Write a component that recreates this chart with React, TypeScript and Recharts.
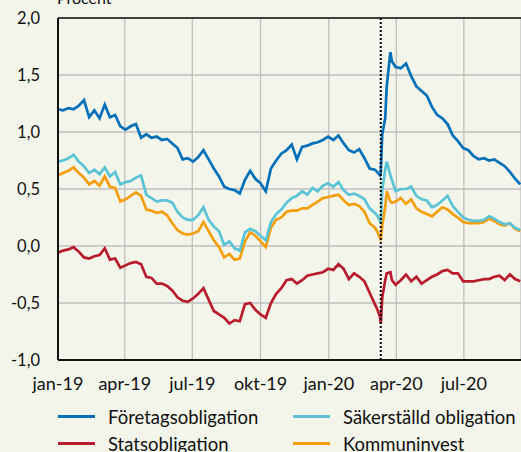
import {
  LineChart,
  Line,
  XAxis,
  YAxis,
  CartesianGrid,
  ReferenceLine,
} from 'recharts';

// Dagliga räntespreadar, avlästa ungefär en gång per vecka (procent)
const dates = [
  '2019-01-01', '2019-01-08', '2019-01-15', '2019-01-22', '2019-01-29', '2019-02-05', '2019-02-12', '2019-02-19',
  '2019-02-26', '2019-03-05', '2019-03-12', '2019-03-19', '2019-03-26', '2019-04-02', '2019-04-09', '2019-04-16',
  '2019-04-23', '2019-04-30', '2019-05-07', '2019-05-14', '2019-05-21', '2019-05-28', '2019-06-04', '2019-06-11',
  '2019-06-18', '2019-06-25', '2019-07-02', '2019-07-09', '2019-07-16', '2019-07-23', '2019-07-30', '2019-08-06',
  '2019-08-13', '2019-08-20', '2019-08-27', '2019-09-03', '2019-09-10', '2019-09-17', '2019-09-24', '2019-10-01',
  '2019-10-08', '2019-10-15', '2019-10-22', '2019-10-29', '2019-11-05', '2019-11-12', '2019-11-19', '2019-11-26',
  '2019-12-03', '2019-12-10', '2019-12-17', '2019-12-24', '2019-12-31', '2020-01-07', '2020-01-14', '2020-01-21',
  '2020-01-28', '2020-02-04', '2020-02-11', '2020-02-18', '2020-02-25', '2020-03-03', '2020-03-06', '2020-03-10',
  '2020-03-11', '2020-03-13', '2020-03-17', '2020-03-19', '2020-03-24', '2020-03-26', '2020-03-31', '2020-04-07',
  '2020-04-14', '2020-04-21', '2020-04-28', '2020-05-05', '2020-05-12', '2020-05-19', '2020-05-26', '2020-06-02',
  '2020-06-09', '2020-06-16', '2020-06-23', '2020-06-30', '2020-07-07', '2020-07-14', '2020-07-21', '2020-07-28',
  '2020-08-04', '2020-08-11', '2020-08-18', '2020-08-25', '2020-09-01', '2020-09-08', '2020-09-15',
];

const foretag = [
  1.20, 1.19, 1.21, 1.20, 1.23, 1.28, 1.13, 1.19, 1.12, 1.24, 1.13, 1.15, 1.05, 1.02, 1.05, 1.07,
  0.95, 0.98, 0.95, 0.96, 0.93, 0.94, 0.90, 0.86, 0.76, 0.77, 0.74, 0.78, 0.84, 0.76, 0.68, 0.61,
  0.52, 0.50, 0.49, 0.46, 0.58, 0.66, 0.59, 0.55, 0.48, 0.68, 0.75, 0.81, 0.84, 0.89, 0.76, 0.87,
  0.88, 0.90, 0.91, 0.93, 0.96, 0.93, 0.97, 0.90, 0.84, 0.82, 0.85, 0.77, 0.68, 0.67, 0.65, 0.62,
  0.64, 0.98, 1.12, 1.40, 1.70, 1.62, 1.57, 1.56, 1.60, 1.49, 1.40, 1.36, 1.32, 1.22, 1.15, 1.12,
  1.07, 0.97, 0.92, 0.86, 0.84, 0.79, 0.76, 0.77, 0.75, 0.76, 0.73, 0.70, 0.65, 0.59, 0.54,
];

const stat = [
  -0.06, -0.04, -0.03, -0.01, -0.05, -0.10, -0.11, -0.09, -0.08, -0.02, -0.12, -0.11, -0.19, -0.17, -0.15, -0.14,
  -0.16, -0.27, -0.28, -0.33, -0.33, -0.35, -0.39, -0.45, -0.48, -0.49, -0.46, -0.42, -0.37, -0.47, -0.57, -0.60,
  -0.63, -0.68, -0.65, -0.66, -0.51, -0.50, -0.56, -0.60, -0.63, -0.50, -0.42, -0.37, -0.30, -0.29, -0.33, -0.30,
  -0.26, -0.25, -0.24, -0.23, -0.20, -0.21, -0.16, -0.20, -0.29, -0.24, -0.27, -0.31, -0.41, -0.51, -0.55, -0.62,
  -0.68, -0.45, -0.30, -0.24, -0.23, -0.30, -0.34, -0.30, -0.25, -0.31, -0.27, -0.33, -0.30, -0.27, -0.25, -0.22,
  -0.21, -0.24, -0.24, -0.31, -0.31, -0.31, -0.30, -0.29, -0.29, -0.27, -0.26, -0.30, -0.25, -0.29, -0.31,
];

const sakerstalld = [
  0.74, 0.75, 0.77, 0.80, 0.74, 0.70, 0.64, 0.67, 0.63, 0.69, 0.61, 0.65, 0.54, 0.56, 0.57, 0.60,
  0.62, 0.45, 0.42, 0.39, 0.40, 0.40, 0.38, 0.30, 0.25, 0.23, 0.23, 0.27, 0.34, 0.23, 0.17, 0.13,
  0.01, 0.04, -0.02, -0.04, 0.12, 0.15, 0.13, 0.09, 0.05, 0.21, 0.28, 0.32, 0.38, 0.42, 0.44, 0.48,
  0.45, 0.51, 0.48, 0.53, 0.55, 0.52, 0.56, 0.49, 0.45, 0.46, 0.44, 0.41, 0.33, 0.29, 0.27, 0.22,
  0.20, 0.49, 0.67, 0.74, 0.62, 0.58, 0.48, 0.50, 0.50, 0.52, 0.44, 0.41, 0.40, 0.34, 0.36, 0.40,
  0.44, 0.35, 0.30, 0.25, 0.23, 0.22, 0.22, 0.23, 0.26, 0.24, 0.21, 0.19, 0.20, 0.16, 0.14,
];

const kommuninvest = [
  0.62, 0.64, 0.66, 0.69, 0.64, 0.60, 0.54, 0.57, 0.53, 0.61, 0.52, 0.51, 0.39, 0.41, 0.44, 0.47,
  0.44, 0.32, 0.31, 0.29, 0.30, 0.27, 0.20, 0.14, 0.11, 0.10, 0.11, 0.13, 0.21, 0.13, 0.05, -0.01,
  -0.10, -0.07, -0.12, -0.11, 0.04, 0.12, 0.09, 0.04, -0.01, 0.16, 0.23, 0.25, 0.30, 0.31, 0.31, 0.33,
  0.33, 0.36, 0.39, 0.42, 0.43, 0.44, 0.45, 0.40, 0.36, 0.37, 0.35, 0.30, 0.20, 0.16, 0.13, 0.07,
  0.05, 0.18, 0.34, 0.48, 0.39, 0.38, 0.39, 0.42, 0.37, 0.41, 0.33, 0.30, 0.28, 0.26, 0.30, 0.34,
  0.32, 0.28, 0.25, 0.21, 0.20, 0.20, 0.20, 0.21, 0.24, 0.22, 0.19, 0.18, 0.20, 0.15, 0.13,
];

const tickDates = ['2019-01-01', '2019-04-01', '2019-07-01', '2019-10-01', '2020-01-01', '2020-04-01', '2020-07-01'];
const tickLabels = ['jan-19', 'apr-19', 'jul-19', 'okt-19', 'jan-20', 'apr-20', 'jul-20'];
const yTicks = [-1, -0.5, 0, 0.5, 1, 1.5, 2];
const markerDate = '2020-03-11';
const endDate = '2020-09-16';

const series = [
  { key: 'foretag', name: 'Företagsobligation', color: '#0070B8' },
  { key: 'stat', name: 'Statsobligation', color: '#B81D2E' },
  { key: 'sakerstalld', name: 'Säkerställd obligation', color: '#5BC3D6' },
  { key: 'kommuninvest', name: 'Kommuninvest', color: '#F59E0B' },
];

const FONT = 'Lato, "Open Sans", sans-serif';
const BG = '#F3F5EA';
const DAY = 86400000;
const start = Date.parse('2019-01-01');
const toDay = (d: string) => Math.round((Date.parse(d) - start) / DAY);

const data = dates.map((d, i) => ({
  day: toDay(d),
  foretag: foretag[i],
  stat: stat[i],
  sakerstalld: sakerstalld[i],
  kommuninvest: kommuninvest[i],
}));

const xTicks = tickDates.map(toDay);

function Legend() {
  const rows = [
    [series[0], series[2]],
    [series[1], series[3]],
  ];
  return (
    <div style={{ position: 'absolute', left: 58, top: 403, fontFamily: FONT, fontSize: 18.5, color: '#111' }}>
      {rows.map((row, r) => (
        <div key={r} style={{ display: 'flex', height: 27, alignItems: 'center' }}>
          {row.map((s) => (
            <div key={s.key} style={{ display: 'flex', alignItems: 'center', width: 235 }}>
              <span style={{ display: 'inline-block', width: 37, height: 3, background: s.color, marginRight: 13 }} />
              <span>{s.name}</span>
            </div>
          ))}
        </div>
      ))}
    </div>
  );
}

export default function App() {
  return (
    <div
      style={{
        position: 'absolute',
        left: 0,
        top: 0,
        width: 521,
        height: 452,
        background: BG,
        overflow: 'hidden',
      }}
    >
      <div style={{ position: 'absolute', left: 57, top: -12, fontFamily: FONT, fontSize: 16, color: '#111' }}>
        Procent
      </div>
      <LineChart
        width={521}
        height={452}
        data={data}
        margin={{ top: 18, right: 0, left: 0, bottom: 62 }}
      >
        <CartesianGrid stroke="#BFBFBF" strokeWidth={1.3} />
        <XAxis
          dataKey="day"
          type="number"
          domain={[0, toDay(endDate)]}
          ticks={xTicks}
          tickFormatter={(v: number) => tickLabels[xTicks.indexOf(v)] ?? ''}
          axisLine={{ stroke: '#111', strokeWidth: 2 }}
          tickLine={false}
          tickSize={0}
          tickMargin={17}
          height={30}
          tick={{ fill: '#111', fontSize: 18, fontFamily: FONT }}
          interval={0}
        />
        <YAxis
          type="number"
          domain={[-1, 2]}
          ticks={yTicks}
          tickFormatter={(v: number) => v.toFixed(1).replace('.', ',')}
          axisLine={{ stroke: '#111', strokeWidth: 2 }}
          tickLine={false}
          tickSize={0}
          tickMargin={18}
          width={58}
          tick={{ fill: '#111', fontSize: 16.5, fontFamily: FONT }}
          interval={0}
        />
        <ReferenceLine y={2} stroke="#111" strokeWidth={1.5} />
        {[series[0], series[1], series[3], series[2]].map((s) => (
          <Line
            key={s.key}
            dataKey={s.key}
            name={s.name}
            stroke={s.color}
            strokeWidth={2.7}
            dot={false}
            type="linear"
            isAnimationActive={false}
          />
        ))}
        <ReferenceLine x={toDay(markerDate)} stroke="#000" strokeWidth={2} strokeDasharray="2 2" />
      </LineChart>
      <Legend />
    </div>
  );
}
